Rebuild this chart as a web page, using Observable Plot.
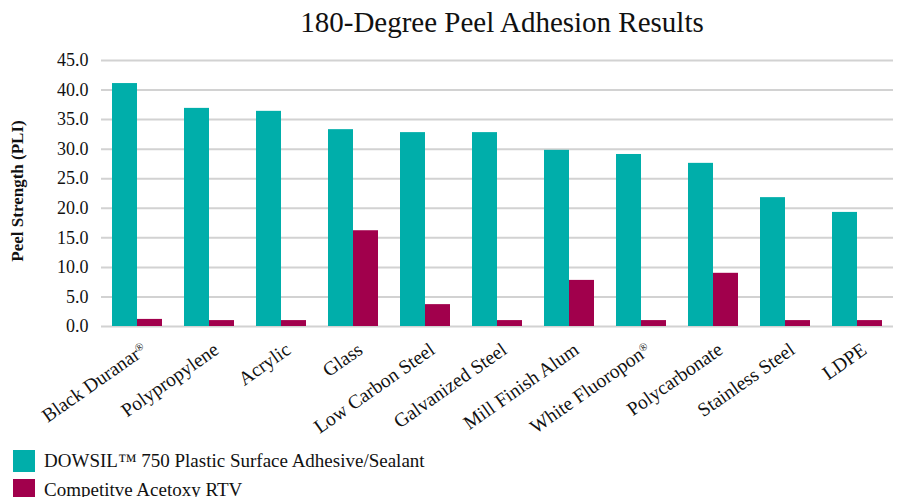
<!DOCTYPE html>
<html><head><meta charset="utf-8">
<script src="https://cdn.jsdelivr.net/npm/d3@7"></script>
<script src="https://cdn.jsdelivr.net/npm/@observablehq/plot@0.6"></script>
<style>
body{margin:0;background:#fff;font-family:"Liberation Serif",serif;color:#111;}
#wrap{position:relative;width:906px;height:497px;overflow:hidden;}
#title{position:absolute;left:0;top:4px;width:1004px;text-align:center;font-size:29px;line-height:36px;}
#chart{position:absolute;left:0;top:45px;}
#ylab{position:absolute;z-index:2;left:18px;top:191px;transform:translate(-50%,-50%) rotate(-90deg);white-space:nowrap;font-weight:bold;font-size:17px;}
#legend{position:absolute;left:13px;top:446px;font-size:19px;}
.item{display:flex;align-items:center;height:29px;}
.sw{width:22px;height:22px;margin-right:9px;flex:none;}
</style></head>
<body><div id="wrap">
<div id="title">180-Degree Peel Adhesion Results</div>
<div id="chart"></div>
<div id="ylab">Peel Strength (PLI)</div>
<div id="legend"></div>
</div>
<script>
const categories = ["Black Duranar®", "Polypropylene", "Acrylic", "Glass", "Low Carbon Steel", "Galvanized Steel", "Mill Finish Alum", "White Fluoropon®", "Polycarbonate", "Stainless Steel", "LDPE"];
const dowsil = [41.1, 36.9, 36.4, 33.3, 32.8, 32.8, 29.8, 29.1, 27.6, 21.8, 19.3];
const competitive = [1.2, 1.0, 1.0, 16.2, 3.7, 1.0, 7.8, 1.0, 9.0, 1.0, 1.0];
const seriesNames = ["DOWSIL™ 750 Plastic Surface Adhesive/Sealant", "Competitve Acetoxy RTV"];
const seriesColors = ["#00AEAA", "#A1004C"];
const yTicks = [0, 5, 10, 15, 20, 25, 30, 35, 40, 45];

const rows = categories.flatMap((c, i) => [
  {category: c, series: seriesNames[0], value: dowsil[i]},
  {category: c, series: seriesNames[1], value: competitive[i]}
]);

const chart = Plot.plot({
  width: 906,
  height: 395,
  marginTop: 15,
  marginBottom: 114,
  marginLeft: 101,
  marginRight: 13,
  style: {fontFamily: "Liberation Serif, serif", fontSize: "18px", color: "#111", background: "transparent"},
  fx: {domain: categories, padding: 0, label: null},
  x: {domain: seriesNames, paddingInner: 0, paddingOuter: 0.41, axis: null},
  y: {domain: [0, 45]},
  color: {domain: seriesNames, range: seriesColors},
  marks: [
    Plot.gridY(yTicks, {stroke: "#d2d2d2", strokeOpacity: 1, strokeWidth: 2}),
    Plot.barY(rows, {fx: "category", x: "series", y: "value", fill: "series"}),
    Plot.axisY({ticks: yTicks, tickFormat: d => d.toFixed(1), tickSize: 0, tickPadding: 13, label: null, line: true, stroke: "#d2d2d2", strokeWidth: 2, fill: "#111"}),
    Plot.axisFx({anchor: "bottom", tickRotate: -35, tickSize: 0, tickPadding: 8, dx: 7, dy: 13, label: null, fill: "#111", fontSize: 19.5})
  ]
});
document.getElementById("chart").appendChild(chart);

// render ® as superscript
d3.select(chart).selectAll("text").each(function() {
  const el = d3.select(this);
  const tnodes = el.selectAll("tspan").size() ? el.selectAll("tspan") : el;
  tnodes.each(function() {
    const t = d3.select(this);
    const s = t.text();
    if (s.includes("®")) {
      const [a, b] = s.split("®");
      t.text(a);
      t.append("tspan").attr("font-size", "11px").attr("baseline-shift", "super").text("®");
      if (b) t.append("tspan").text(b);
    }
  });
});

const legend = document.getElementById("legend");
seriesNames.forEach((s, i) => {
  const d = document.createElement("div");
  d.className = "item";
  d.innerHTML = `<span class="sw" style="background:${seriesColors[i]}"></span><span>${s}</span>`;
  legend.appendChild(d);
});
</script>
</body></html>
